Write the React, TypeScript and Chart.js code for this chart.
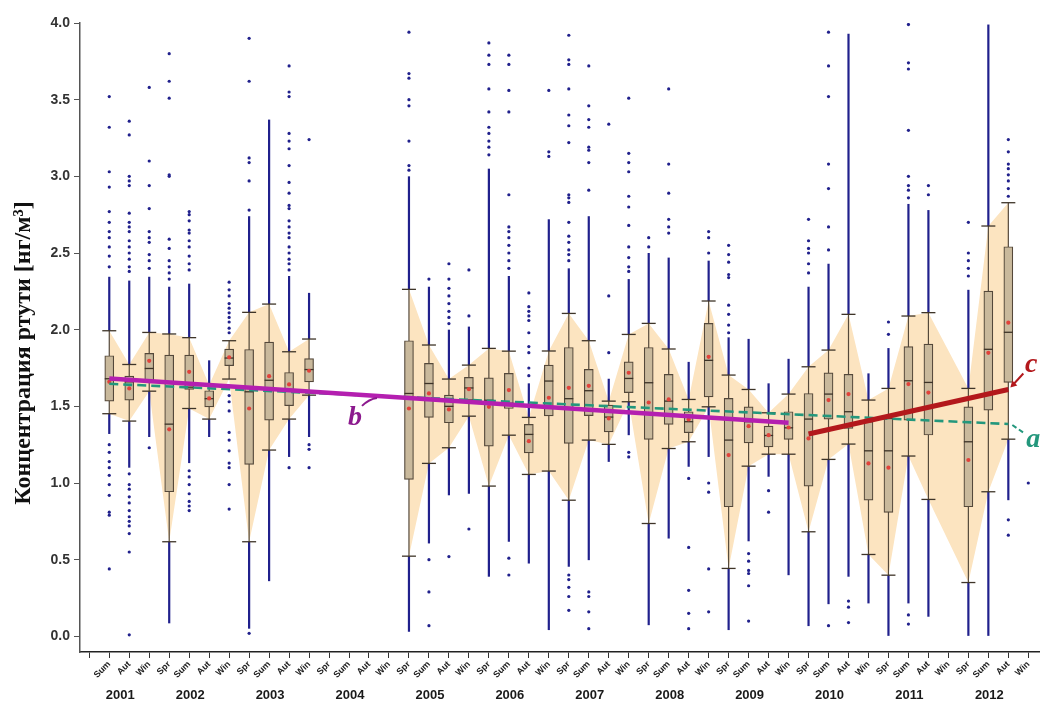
import React, { useEffect, useRef } from 'react';
import { Chart, registerables } from 'chart.js';

Chart.register(...registerables);

// ---------------- data ----------------
const seasonLabels = [
  '',
  'Sum', 'Aut', 'Win',
  'Spr', 'Sum', 'Aut', 'Win',
  'Spr', 'Sum', 'Aut', 'Win',
  'Spr', 'Sum', 'Aut', 'Win',
  'Spr', 'Sum', 'Aut', 'Win',
  'Spr', 'Sum', 'Aut', 'Win',
  'Spr', 'Sum', 'Aut', 'Win',
  'Spr', 'Sum', 'Aut', 'Win',
  'Spr', 'Sum', 'Aut', 'Win',
  'Spr', 'Sum', 'Aut', 'Win',
  'Spr', 'Sum', 'Aut', 'Win',
  'Spr', 'Sum', 'Aut', 'Win',
];

const yearLabels = ['2001', '2002', '2003', '2004', '2005', '2006', '2007', '2008', '2009', '2010', '2011', '2012'];

const yTitle = 'Концентрация ртути [нг/м³]';

const q1Values = [
  null,
  1.534, 1.541, 1.656,
  0.943, 1.61, 1.497, 1.765,
  1.121, 1.41, 1.504, 1.66,
  null, null, null, null,
  1.023, 1.428, 1.393, 1.541,
  1.241, 1.486, 1.197, 1.438,
  1.258, 1.44, 1.334, 1.59,
  1.284, 1.382, 1.328, 1.562,
  0.845, 1.262, 1.236, 1.284,
  0.98, 1.417, 1.356, 0.888,
  0.809, 1.41, 1.313, null,
  0.845, 1.475, 1.656, null,
];

const medianValues = [
  null,
  1.68, 1.66, 1.747,
  1.384, 1.625, 1.55, 1.815,
  1.595, 1.67, 1.6, 1.74,
  null, null, null, null,
  1.584, 1.649, 1.5, 1.62,
  1.54, 1.52, 1.317, 1.665,
  1.55, 1.602, 1.43, 1.682,
  1.654, 1.534, 1.4, 1.8,
  1.28, 1.4, 1.31, 1.36,
  1.417, 1.58, 1.465, 1.21,
  1.21, 1.667, 1.656, null,
  1.269, 1.872, 1.983, null,
];

const q3Values = [
  null,
  1.83, 1.697, 1.845,
  1.834, 1.834, 1.602, 1.873,
  1.871, 1.919, 1.721, 1.812,
  null, null, null, null,
  1.928, 1.78, 1.573, 1.689,
  1.686, 1.715, 1.382, 1.769,
  1.884, 1.741, 1.508, 1.79,
  1.884, 1.708, 1.465, 2.041,
  1.552, 1.497, 1.371, 1.465,
  1.584, 1.719, 1.709, 1.4,
  1.422, 1.889, 1.906, null,
  1.497, 2.252, 2.541, null,
];

const whiskerLowValues = [
  null,
  1.452, 1.404, 1.599,
  0.617, 1.486, 1.417, 1.678,
  0.617, 1.215, 1.417, 1.573,
  null, null, null, null,
  0.523, 1.128, 1.23, 1.436,
  0.98, 1.312, 1.056, 1.078,
  0.888, 1.28, 1.252, 1.53,
  0.736, 1.225, 1.269, 1.497,
  0.443, 1.11, 1.188, 1.188,
  0.682, 1.154, 1.254, 0.534,
  0.399, 1.176, 0.893, null,
  0.351, 0.943, 1.286, null,
];

const whiskerHighValues = [
  null,
  1.993, 1.773, 1.982,
  1.972, 1.948, 1.64, 1.928,
  2.113, 2.167, 1.856, 1.939,
  null, null, null, null,
  2.263, 1.9, 1.678, 1.769,
  1.878, 1.86, 1.428, 1.861,
  2.106, 1.928, 1.534, 1.969,
  2.041, 1.874, 1.545, 2.187,
  1.704, 1.61, 1.458, 1.58,
  1.758, 1.867, 2.1, 1.541,
  1.617, 2.089, 2.111, null,
  1.617, 2.676, 2.828, null,
];

const meanValues = [
  null,
  1.66, 1.617, 1.797,
  1.35, 1.725, 1.552, 1.82,
  1.486, 1.697, 1.643, 1.732,
  null, null, null, null,
  1.486, 1.584, 1.48, 1.612,
  1.497, 1.606, 1.273, 1.556,
  1.621, 1.634, 1.421, 1.719,
  1.525, 1.545, 1.415, 1.823,
  1.182, 1.371, 1.312, 1.362,
  1.291, 1.541, 1.58, 1.128,
  1.1, 1.645, 1.59, null,
  1.15, 1.849, 2.046, null,
];

// upper end of the dense run of outliers above the upper whisker
const denseHighTop = [
  null,
  2.345, 2.32, 2.345,
  2.28, 2.3, 1.8, null,
  2.74, 3.37, 2.35, 2.24,
  null, null, null, null,
  3.0, 2.28, 2.0, 2.02,
  3.05, 2.35, 1.65, 2.72,
  2.4, 2.74, 1.68, 2.33,
  2.5, 2.47, 1.79, 2.45,
  1.95, 1.94, 1.65, 1.81,
  2.28, 2.43, 3.93, 1.715,
  1.88, 2.82, 2.78, null,
  2.26, 3.99, null, null,
];

// lower end of the dense run of outliers below the lower whisker
const denseLowBottom = [
  null,
  1.32, 1.1, 1.3,
  0.085, 1.13, 1.3, null,
  0.05, 0.36, 1.17, 1.3,
  null, null, null, null,
  0.03, 0.606, 0.92, 0.93,
  0.389, 0.617, 0.475, 0.041,
  0.454, 0.497, 1.138, 1.312,
  0.073, 0.638, 1.106, 1.17,
  0.041, 0.62, 1.041, 0.399,
  0.067, 0.21, 0.389, 0.215,
  0.0, 0.215, 0.128, null,
  0.0, 0.0, 0.888, null,
];

// isolated outliers
const sparseOutliers = [
  [],
  [3.52, 3.32, 3.03, 2.93, 2.77, 2.7, 2.64, 2.6, 2.54, 2.48, 2.41, 1.25, 1.2, 1.14, 1.1, 1.05, 0.99, 0.92, 0.81, 0.79, 0.44],
  [3.36, 3.27, 3.0, 2.97, 2.94, 2.76, 2.7, 2.67, 2.64, 2.58, 2.54, 2.5, 2.46, 2.41, 2.38, 1.06, 0.99, 0.96, 0.91, 0.87, 0.82, 0.78, 0.75, 0.72, 0.67, 0.55, 0.01],
  [3.58, 3.1, 2.94, 2.79, 2.64, 2.6, 2.57, 2.49, 2.45, 2.4, 1.23],
  [3.8, 3.62, 3.51, 3.01, 3.0, 2.59, 2.53, 2.45, 2.41, 2.37, 2.33],
  [2.77, 2.75, 2.71, 2.65, 2.63, 2.58, 2.54, 2.48, 2.43, 2.39, 1.08, 1.04, 0.99, 0.93, 0.88, 0.85, 0.82],
  [],
  [2.31, 2.26, 2.22, 2.17, 2.14, 2.11, 2.08, 2.05, 2.01, 1.98, 1.63, 1.57, 1.53, 1.47, 1.33, 1.28, 1.21, 1.13, 1.1, 0.99, 0.83],
  [3.9, 3.62, 3.12, 3.09, 2.97, 2.78, 0.02],
  [],
  [3.72, 3.55, 3.52, 3.28, 3.23, 3.18, 3.07, 2.96, 2.89, 2.81, 2.79, 2.71, 2.67, 2.63, 2.6, 2.54, 2.5, 2.46, 2.43, 2.39, 1.1],
  [3.24, 1.25, 1.22, 1.1],
  [], [], [], [],
  [3.94, 3.67, 3.64, 3.5, 3.46, 3.23, 3.07, 3.04],
  [2.33, 0.5, 0.29, 0.07],
  [2.43, 2.33, 2.27, 2.22, 2.17, 2.12, 2.08, 2.04, 0.52],
  [2.39, 2.09, 0.7],
  [3.87, 3.79, 3.73, 3.57, 3.42, 3.32, 3.28, 3.23, 3.19, 3.14],
  [3.79, 3.73, 3.56, 3.42, 2.88, 2.67, 2.64, 2.6, 2.55, 2.5, 2.45, 2.4, 0.51, 0.4],
  [2.24, 2.15, 2.12, 2.09, 2.06, 1.98, 1.89, 1.85, 1.75, 1.7],
  [3.56, 3.16, 3.13],
  [3.92, 3.76, 3.73, 3.57, 3.4, 3.33, 3.22, 2.88, 2.86, 2.83, 2.7, 2.61, 2.57, 2.52, 2.49, 2.45, 0.4, 0.37, 0.32, 0.26, 0.17],
  [3.72, 3.46, 3.37, 3.32, 3.19, 3.17, 3.09, 2.91, 0.29, 0.26, 0.16, 0.05],
  [3.34, 2.22, 1.85],
  [3.51, 3.15, 3.09, 3.03, 2.87, 2.8, 2.68, 2.54, 2.47, 2.41, 2.38, 1.2, 1.17],
  [2.6, 2.54],
  [3.57, 3.08, 2.89, 2.72, 2.67, 2.63],
  [1.03, 0.58, 0.3, 0.15, 0.05],
  [2.64, 2.6, 2.5, 1.0, 0.94, 0.44, 0.16],
  [2.55, 2.49, 2.44, 2.36, 2.34, 2.16, 2.1, 2.03, 1.98],
  [0.54, 0.49, 0.43, 0.41, 0.33, 0.1],
  [0.95, 0.81],
  [],
  [2.72, 2.58, 2.53, 2.5, 2.43, 2.37],
  [3.94, 3.72, 3.52, 3.08, 2.92, 2.67, 2.52, 0.07],
  [0.23, 0.19, 0.09],
  [],
  [2.05, 1.97],
  [3.99, 3.74, 3.7, 3.3, 3.0, 2.94, 2.91, 2.86, 0.14, 0.08],
  [2.94, 2.88],
  [],
  [2.7, 2.5, 2.45, 2.4, 2.35],
  [],
  [3.24, 3.16, 3.08, 3.05, 3.01, 2.97, 2.92, 2.87, 0.76, 0.66],
  [1.0],
];

// trend lines (category slot, value)
const trendASlots = [1, 46];
const trendAValues = [1.647, 1.385];
const trendBSlots = [1, 35];
const trendBValues = [1.682, 1.393];
const trendCSlots = [36, 46];
const trendCValues = [1.32, 1.61];

// continuous parts of the shaded whisker envelope (first and last slot)
const bandSegments = [[1, 11], [16, 46]];

// ---------------- styles ----------------
const NAVY = '#20208c';
const BOX_FILL = '#c9b99c';
const BOX_LINE = '#54483a';
const BAND = 'rgb(252,228,192)';
const MEAN_RED = '#e2423a';
const COL_A = '#23977c';
const COL_B_LINE = '#b41fb0';
const COL_B = '#8c1a8e';
const COL_C = '#b3181c';

type Pt = { x: number; y: any };

function pointsOf(vals: (number | null)[]): Pt[] {
  const out: Pt[] = [];
  vals.forEach((v, i) => {
    if (v != null) out.push({ x: i, y: v });
  });
  return out;
}

function rangesOf(lo: (number | null)[], hi: (number | null)[]): Pt[] {
  const out: Pt[] = [];
  lo.forEach((a, i) => {
    const b = hi[i];
    if (a != null && b != null) out.push({ x: i, y: [a, b] });
  });
  return out;
}

// let the x axis run to the right edge of the canvas (points' overflow padding would shrink it)
const stretchPlugin = {
  id: 'stretch',
  afterLayout(chart: any) {
    const xs = chart.scales.x;
    const R = chart.width;
    chart.chartArea.right = R;
    chart.chartArea.width = R - chart.chartArea.left;
    xs.right = R;
    xs.width = R - xs.left;
    xs.configure();
  },
};

const overlayPlugin = {
  id: 'overlay',
  afterDraw(chart: any) {
    const ctx = chart.ctx;
    const xs = chart.scales.x;
    const ys = chart.scales.y;
    ctx.save();

    // year labels
    ctx.font = 'bold 13px "Liberation Sans", Arial, sans-serif';
    ctx.fillStyle = '#1a1a1a';
    ctx.textAlign = 'center';
    ctx.textBaseline = 'middle';
    yearLabels.forEach((yl, k) => {
      const slot = k === 0 ? 1.5 : 4 * k + 1;
      ctx.fillText(yl, xs.getPixelForValue(slot) + 1, 695);
    });

    // y title
    ctx.save();
    ctx.translate(24, 353);
    ctx.rotate(-Math.PI / 2);
    ctx.font = 'bold 24px "Liberation Serif", "Times New Roman", serif';
    ctx.fillStyle = '#111';
    ctx.textAlign = 'center';
    ctx.textBaseline = 'middle';
    ctx.fillText(yTitle, 0, 0);
    ctx.restore();

    ctx.font = 'italic bold 28px "Liberation Serif", "Times New Roman", serif';
    ctx.textAlign = 'center';
    ctx.textBaseline = 'middle';

    // label c with arrow
    const cx = xs.getPixelForValue(trendCSlots[1]);
    const cy = ys.getPixelForValue(trendCValues[1]);
    ctx.strokeStyle = COL_C;
    ctx.fillStyle = COL_C;
    ctx.lineWidth = 2;
    ctx.beginPath();
    ctx.moveTo(cx + 15, cy - 16);
    ctx.lineTo(cx + 4, cy - 4);
    ctx.stroke();
    ctx.beginPath();
    ctx.moveTo(cx + 2, cy - 2);
    ctx.lineTo(cx + 4, cy - 9);
    ctx.lineTo(cx + 9, cy - 4);
    ctx.closePath();
    ctx.fill();
    ctx.fillText('c', cx + 23, cy - 25);

    // label a with dashed leader
    const ax = xs.getPixelForValue(trendASlots[1]);
    const ay = ys.getPixelForValue(trendAValues[1]);
    ctx.strokeStyle = COL_A;
    ctx.fillStyle = COL_A;
    ctx.lineWidth = 2;
    ctx.setLineDash([5, 3]);
    ctx.beginPath();
    ctx.moveTo(ax + 4, ay + 1);
    ctx.lineTo(ax + 17, ay + 10);
    ctx.stroke();
    ctx.setLineDash([]);
    ctx.fillText('a', ax + 25, ay + 16);

    // label b with leader
    const bSlot = 14.4;
    const bFrac = (bSlot - trendBSlots[0]) / (trendBSlots[1] - trendBSlots[0]);
    const bx = xs.getPixelForValue(bSlot);
    const by = ys.getPixelForValue(trendBValues[0] + bFrac * (trendBValues[1] - trendBValues[0]));
    ctx.strokeStyle = COL_B;
    ctx.fillStyle = COL_B;
    ctx.lineWidth = 2;
    ctx.beginPath();
    ctx.moveTo(bx - 15, by + 10);
    ctx.quadraticCurveTo(bx - 8, by + 3, bx, by + 2);
    ctx.stroke();
    ctx.fillText('b', bx - 22, by + 22);

    ctx.restore();
  },
};

export default function App() {
  const ref = useRef<HTMLCanvasElement | null>(null);

  useEffect(() => {
    if (!ref.current) return;

    const datasets: any[] = [];

    // shaded envelope
    bandSegments.forEach(([a, b]) => {
      const up: Pt[] = [];
      const lo: Pt[] = [];
      for (let i = a; i <= b; i++) {
        if (whiskerHighValues[i] != null && whiskerLowValues[i] != null) {
          up.push({ x: i, y: whiskerHighValues[i] });
          lo.push({ x: i, y: whiskerLowValues[i] });
        }
      }
      datasets.push({
        type: 'line', data: up, borderWidth: 0, borderColor: 'rgba(0,0,0,0)', pointRadius: 0,
        fill: '+1', backgroundColor: BAND, tension: 0, order: 30,
      });
      datasets.push({
        type: 'line', data: lo, borderWidth: 0, borderColor: 'rgba(0,0,0,0)', pointRadius: 0,
        fill: false, tension: 0, order: 30,
      });
    });

    // dense outlier runs
    datasets.push({
      type: 'bar', data: rangesOf(whiskerHighValues, denseHighTop), backgroundColor: NAVY,
      barThickness: 2.2, grouped: false, borderWidth: 0, inflateAmount: 0, order: 12,
    });
    datasets.push({
      type: 'bar', data: rangesOf(denseLowBottom, whiskerLowValues), backgroundColor: NAVY,
      barThickness: 2.2, grouped: false, borderWidth: 0, inflateAmount: 0, order: 12,
    });

    // sparse outliers
    const sparsePts: Pt[] = [];
    sparseOutliers.forEach((list, i) => list.forEach((v) => sparsePts.push({ x: i, y: v })));
    datasets.push({
      type: 'scatter', data: sparsePts, pointRadius: 1.6, pointStyle: 'circle',
      backgroundColor: NAVY, borderWidth: 0, order: 11,
    });

    // whiskers
    datasets.push({
      type: 'bar', data: rangesOf(whiskerLowValues, whiskerHighValues), backgroundColor: BOX_LINE,
      barThickness: 1.2, grouped: false, borderWidth: 0, inflateAmount: 0, order: 10,
    });
    // whisker caps
    datasets.push({
      type: 'scatter', data: [...pointsOf(whiskerLowValues), ...pointsOf(whiskerHighValues)],
      pointStyle: 'line', pointRadius: 7, borderColor: '#3e3428', borderWidth: 1.3, order: 9,
    });
    // boxes
    datasets.push({
      type: 'bar', data: rangesOf(q1Values, q3Values), backgroundColor: BOX_FILL,
      borderColor: BOX_LINE, borderWidth: 1.2, borderSkipped: false,
      barThickness: 9, grouped: false, order: 8,
    });
    // medians
    datasets.push({
      type: 'scatter', data: pointsOf(medianValues), pointStyle: 'line', pointRadius: 4.5,
      borderColor: '#3e3428', borderWidth: 1.3, order: 7,
    });
    // means
    datasets.push({
      type: 'scatter', data: pointsOf(meanValues), pointStyle: 'circle', pointRadius: 2.1,
      backgroundColor: MEAN_RED, borderWidth: 0, order: 6,
    });

    // trend lines
    const lineOf = (slots: number[], vals: number[]) => slots.map((s, k) => ({ x: s, y: vals[k] }));
    datasets.push({
      type: 'line', data: lineOf(trendASlots, trendAValues), borderColor: COL_A, borderWidth: 2.6,
      borderDash: [9, 5], pointRadius: 0, fill: false, tension: 0, order: 3,
    });
    datasets.push({
      type: 'line', data: lineOf(trendBSlots, trendBValues), borderColor: COL_B_LINE, borderWidth: 4.5,
      pointRadius: 0, fill: false, tension: 0, order: 2,
    });
    datasets.push({
      type: 'line', data: lineOf(trendCSlots, trendCValues), borderColor: COL_C, borderWidth: 5,
      pointRadius: 0, fill: false, tension: 0, order: 1,
    });

    const chart = new Chart(ref.current, {
      type: 'bar',
      data: { datasets },
      options: {
        animation: false,
        responsive: true,
        maintainAspectRatio: false,
        devicePixelRatio: 1,
        layout: { padding: { top: 23, left: 0, right: 0, bottom: 0 } },
        plugins: {
          legend: { display: false },
          tooltip: { enabled: false },
          filler: { drawTime: 'beforeDatasetsDraw' },
        },
        scales: {
          x: {
            type: 'linear',
            offset: false,
            min: -0.465,
            max: 47.585,
            grid: { offset: false, drawOnChartArea: false, drawTicks: true, tickLength: 6, color: '#333', lineWidth: 1 },
            border: { display: true, color: '#222', width: 1.5 },
            ticks: {
              stepSize: 1,
              includeBounds: false,
              autoSkip: false,
              maxRotation: 45,
              minRotation: 45,
              padding: 1,
              color: '#222',
              font: { size: 9, weight: 'bold', family: '"Liberation Sans", Arial, sans-serif' },
              callback: (v: any) => {
                const i = Math.round(Number(v));
                return Math.abs(Number(v) - i) < 1e-6 ? (seasonLabels[i] ?? '') : '';
              },
            },
            afterFit: (s: any) => {
              s.height = 50;
              s.paddingLeft = 0;
              s.paddingRight = 0;
            },
          },
          y: {
            type: 'linear',
            min: -0.102,
            max: 4.0,
            grid: { drawOnChartArea: false, drawTicks: true, tickLength: 6, color: '#555', lineWidth: 1 },
            border: { display: true, color: '#555', width: 1.5 },
            ticks: {
              stepSize: 0.5,
              includeBounds: false,
              padding: 4,
              color: '#333',
              font: { size: 14, weight: 'bold', family: '"Liberation Sans", Arial, sans-serif' },
              callback: (v: any) => Number(v).toFixed(1),
            },
            afterFit: (s: any) => {
              s.width = 80;
              s.paddingTop = 0;
              s.paddingBottom = 0;
            },
          },
        },
      } as any,
      plugins: [stretchPlugin, overlayPlugin],
    });

    return () => chart.destroy();
  }, []);

  return (
    <div style={{ position: 'fixed', left: 0, top: 0, width: 1040, height: 702, background: '#fff' }}>
      <canvas ref={ref} />
    </div>
  );
}
